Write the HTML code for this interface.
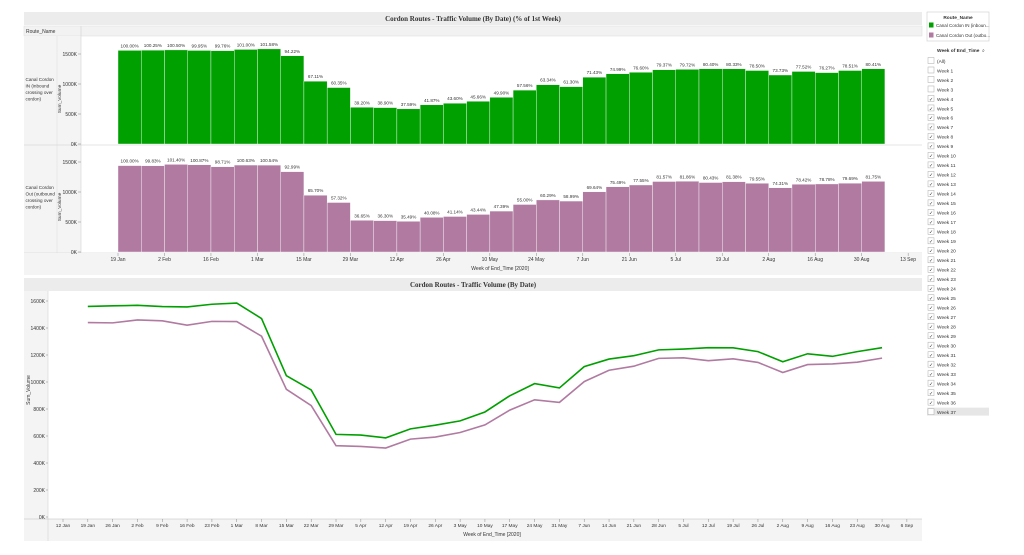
<!DOCTYPE html>
<html><head><meta charset="utf-8"><style>
body{margin:0;background:#fff;width:1024px;height:555px;overflow:hidden;font-family:"Liberation Sans",sans-serif}
svg{position:absolute;left:0;top:0}
text{fill:#333}
</style></head><body>
<svg id="s" width="1024" height="555"></svg>
<script>
const weeks=['19 Jan','2 Feb','16 Feb','1 Mar','15 Mar','29 Mar','12 Apr','26 Apr','10 May','24 May','7 Jun','21 Jun','5 Jul','19 Jul','2 Aug','16 Aug','30 Aug','13 Sep'];
const lineTicks=['12 Jan','19 Jan','26 Jan','2 Feb','9 Feb','16 Feb','23 Feb','1 Mar','8 Mar','15 Mar','22 Mar','29 Mar','5 Apr','12 Apr','19 Apr','26 Apr','3 May','10 May','17 May','24 May','31 May','7 Jun','14 Jun','21 Jun','28 Jun','5 Jul','12 Jul','19 Jul','26 Jul','2 Aug','9 Aug','16 Aug','23 Aug','30 Aug','6 Sep'];
const inVals=[1560,1564,1568,1559,1556,1576,1585,1470,1047,941,612,607,586,653,680,712,778,898,988,956,1114,1170,1195,1238,1244,1254,1253,1225,1150,1209,1190,1225,1254];
const outVals=[1440,1438,1460,1453,1421,1449,1448,1339,946,825,528,523,511,577,592,626,682,792,868,849,1003,1087,1117,1175,1179,1158,1172,1145,1070,1129,1134,1147,1177];
const inPct=['100.00%','100.25%','100.50%','99.95%','99.76%','101.00%','101.58%','94.22%','67.11%','60.35%','39.20%','38.90%','37.59%','41.87%','43.60%','45.66%','49.90%','57.56%','63.34%','61.30%','71.43%','74.99%','76.60%','79.37%','79.72%','80.40%','80.33%','78.50%','73.73%','77.52%','76.27%','78.51%','80.41%'];
const outPct=['100.00%','99.83%','101.40%','100.87%','98.71%','100.63%','100.54%','92.99%','65.70%','57.32%','36.65%','36.30%','35.49%','40.08%','41.14%','43.44%','47.39%','55.00%','60.29%','58.99%','69.64%','75.49%','77.55%','81.57%','81.86%','80.43%','81.38%','79.55%','74.31%','78.42%','78.78%','79.69%','81.75%'];
const barTicks=['0K','500K','1000K','1500K'];const barTickV=[0,500,1000,1500];
const lineTickV=[0,200,400,600,800,1000,1200,1400,1600];

const S=document.getElementById('s');const NS='http://www.w3.org/2000/svg';
function el(t,a,p){const e=document.createElementNS(NS,t);for(const k in a)e.setAttribute(k,a[k]);(p||S).appendChild(e);return e;}
function tx(x,y,s,o,p){const e=el('text',Object.assign({x:x,y:y,'font-size':5.5,style:'font-family:"Liberation Sans",sans-serif'},o||{}),p);e.textContent=s;return e;}
const SERIF='font-family:"Liberation Serif",serif';
const GREEN='#00a000',PINK='#b07aa1';
let r;
r=el('rect',{x:24,y:12,width:898,height:13,fill:'#ececec'});
let t=tx(473,21,'Cordon Routes - Traffic Volume (By Date) (% of 1st Week)',{'font-size':7,'text-anchor':'middle',style:SERIF,'font-weight':'bold'});
r=el('rect',{x:24,y:26,width:898,height:10,fill:'#f2f2f2',stroke:'#ddd','stroke-width':0.5});
tx(26,33,'Route_Name',{'font-size':5});
r=el('rect',{x:24,y:36,width:57,height:239,fill:'#f4f4f4'});
el('line',{x1:57,y1:36,x2:57,y2:253,stroke:'#ddd','stroke-width':0.5});
el('line',{x1:81,y1:26,x2:81,y2:275,stroke:'#ccc','stroke-width':0.5});
el('line',{x1:24,y1:145,x2:922,y2:145,stroke:'#ccc','stroke-width':0.5});
el('line',{x1:24,y1:253,x2:922,y2:253,stroke:'#ccc','stroke-width':0.5});
r=el('rect',{x:81,y:253,width:841,height:22,fill:'#f4f4f4'});
el('rect',{x:24,y:253,width:57,height:22,fill:'#f4f4f4'});
const labIn=['Canal Cordon','IN (inbound','crossing over','cordon)'],labOut=['Canal Cordon','Out (outbound','crossing over','cordon)'];
[[labIn,81],[labOut,189]].forEach(([l,y0],i)=>{l.forEach((s,j)=>{let q=tx(25.5,y0+j*6.5,s,{'font-size':4.6});});
 let q=tx(0,0,'Sum_Volume',{'font-size':4.8,transform:`translate(61,${i?207:99}) rotate(-90)`,'text-anchor':'middle'});});
const bx0=118,bw=23.24;
function bX(i){return bx0+i*bw;}
function panel(vals,pct,base,col,name){
  const yS=v=>base-v*(90/1500);
  barTickV.forEach((v,i)=>{let q=tx(77,yS(v)+2,barTicks[i],{'font-size':5,'text-anchor':'end'});el('line',{x1:78,y1:yS(v),x2:81,y2:yS(v),stroke:'#888','stroke-width':0.5});});
  vals.forEach((v,i)=>{const b=el('rect',{x:bX(i),y:yS(v),width:bw,height:base-yS(v),fill:col,stroke:'#fff','stroke-width':0.4});
   let q=tx(bX(i)+bw/2,yS(v)-3,pct[i],{'font-size':4.6,'text-anchor':'middle'});});
}
panel(inVals,inPct,144,GREEN,'inbound');
panel(outVals,outPct,252,PINK,'outbound');
weeks.forEach((w,i)=>{const x=bX(i*2);el('line',{x1:x,y1:253,x2:x,y2:256,stroke:'#888','stroke-width':0.5});let q=tx(x,261,w,{'font-size':5,'text-anchor':'middle'});});
t=tx(500,270,'Week of End_Time [2020]',{'font-size':5,'text-anchor':'middle'});
r=el('rect',{x:24,y:278,width:898,height:13,fill:'#ececec'});
t=tx(473,287,'Cordon Routes - Traffic Volume (By Date)',{'font-size':7,'text-anchor':'middle',style:SERIF,'font-weight':'bold'});
el('rect',{x:24,y:291,width:24,height:250,fill:'#f4f4f4'});
el('rect',{x:24,y:519,width:898,height:22,fill:'#f4f4f4'});
el('line',{x1:48,y1:291,x2:48,y2:541,stroke:'#ccc','stroke-width':0.5});
el('line',{x1:24,y1:519,x2:922,y2:519,stroke:'#bbb','stroke-width':0.5});
const ly=v=>517-v*(216/1600);const lx=i=>63+i*24.82;
lineTickV.forEach(v=>{let q=tx(45,ly(v)+2,v+'K',{'font-size':5,'text-anchor':'end'});el('line',{x1:46,y1:ly(v),x2:48,y2:ly(v),stroke:'#888','stroke-width':0.5});});
t=tx(0,0,'Sum_Volume',{'font-size':5,transform:'translate(30,390) rotate(-90)','text-anchor':'middle'});
lineTicks.forEach((w,i)=>{el('line',{x1:lx(i),y1:519,x2:lx(i),y2:522,stroke:'#888','stroke-width':0.5});let q=tx(lx(i),527,w,{'font-size':4.8,'text-anchor':'middle'});});
t=tx(492,536,'Week of End_Time [2020]',{'font-size':5,'text-anchor':'middle'});
[[outVals,PINK,'outbound-line'],[inVals,GREEN,'inbound-line']].forEach(([v,c,n])=>{const p=el('polyline',{points:v.map((d,i)=>lx(i+1)+','+ly(d)).join(' '),fill:'none',stroke:c,'stroke-width':1.6});});
r=el('rect',{x:927,y:12,width:62,height:29,fill:'#fff',stroke:'#ccc','stroke-width':0.6});
tx(958,19,'Route_Name',{'font-size':4.8,'text-anchor':'middle','font-weight':'bold'});
[[GREEN,'Canal Cordon IN (inboun...',27],[PINK,'Canal Cordon Out (outbo...',37]].forEach(([c,s,y])=>{const g=el('g',{});el('rect',{x:929,y:y-4.5,width:4.5,height:5,fill:c},g);tx(936,y,s,{'font-size':4.5},g);});
t=tx(937,52,'Week of End_Time',{'font-size':4.8,'font-weight':'bold'});
tx(982,52,'⌕',{'font-size':5,fill:'#c88'});
const items=['(All)'];for(let i=1;i<=37;i++)items.push('Week '+i);
items.forEach((s,i)=>{const y=61+i*9.49;const g=el('g',{});
 if(i==37)el('rect',{x:927,y:y-4.5,width:62,height:8,fill:'#e6e6e6'},g);
 el('rect',{x:928,y:y-3.5,width:6,height:6,fill:'#fff',stroke:'#aaa','stroke-width':0.5},g);
 if(i>=4&&i<=36)tx(929,y+1.8,'✓',{'font-size':5,fill:'#777'},g);
 tx(937,y+1.8,s,{'font-size':4.8},g);});
</script></body></html>
